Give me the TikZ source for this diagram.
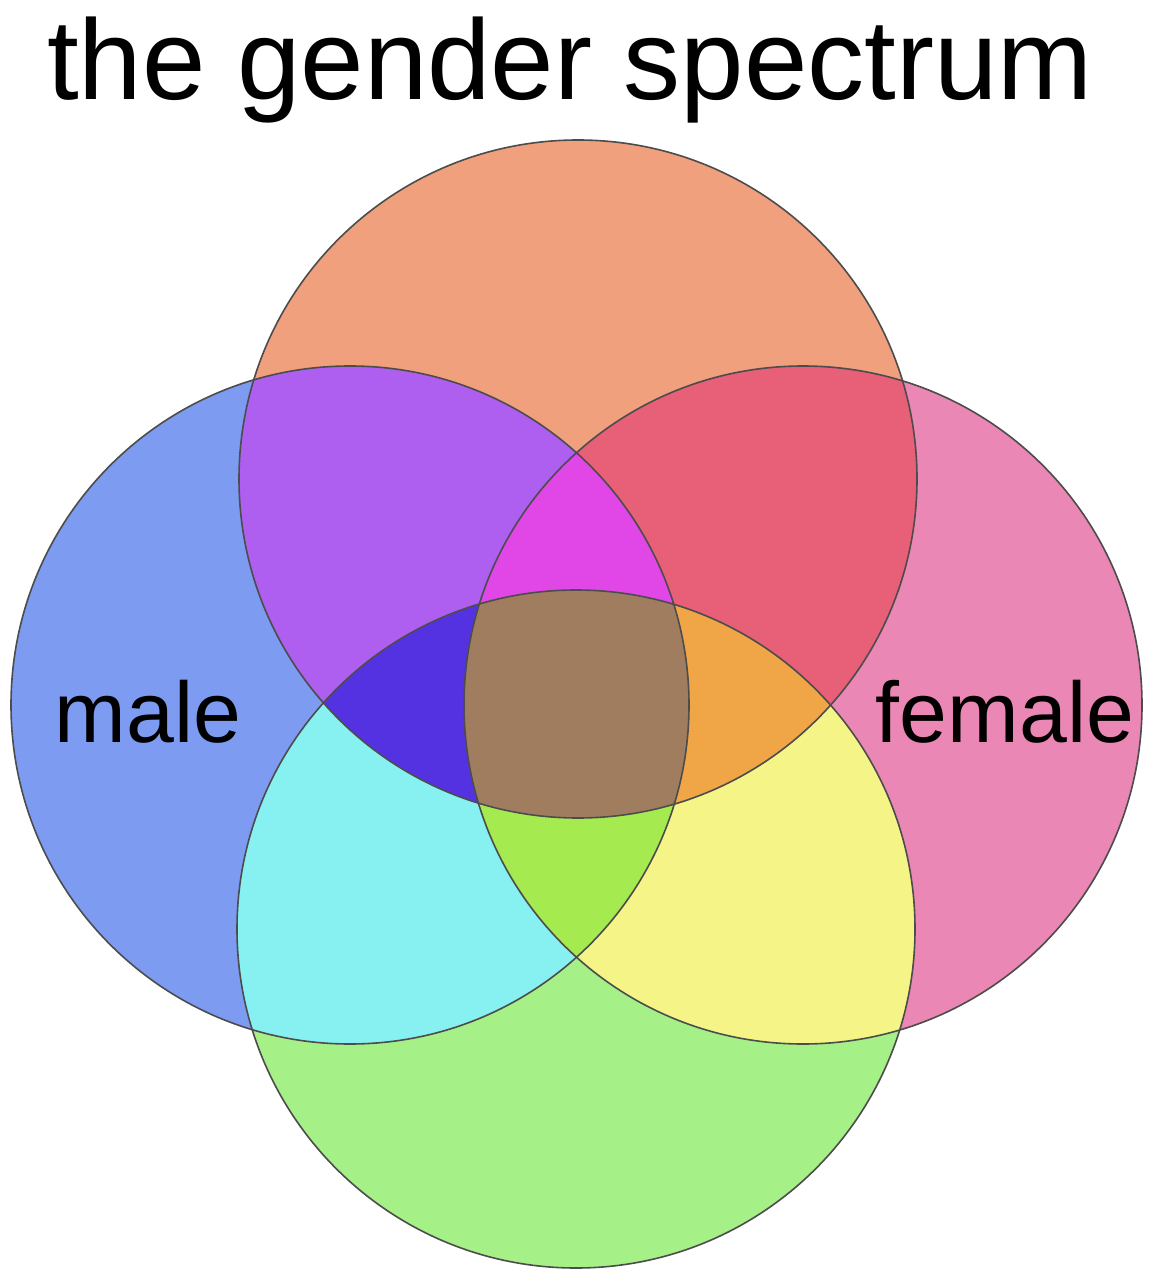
\documentclass[tikz,border=0pt]{standalone}
\usepackage{fontspec}
\setmainfont{Liberation Sans}
\usetikzlibrary{positioning}
\definecolor{topsalmon}{RGB}{240,160,125}
\definecolor{leftblue}{RGB}{125,155,240}
\definecolor{rightpink}{RGB}{235,135,180}
\definecolor{botgreen}{RGB}{165,240,135}
\definecolor{tlpurple}{RGB}{175,95,240}
\definecolor{trred}{RGB}{232,95,120}
\definecolor{lbcyan}{RGB}{135,240,240}
\definecolor{rbyellow}{RGB}{245,245,135}
\definecolor{tlrmagenta}{RGB}{225,70,230}
\definecolor{tlbblue}{RGB}{85,50,225}
\definecolor{trborange}{RGB}{240,165,70}
\definecolor{lrblime}{RGB}{165,235,80}
\definecolor{allbrown}{RGB}{160,125,95}
\newcommand{\vennr}{169.5pt}

\begin{document}
\begin{tikzpicture}[x=0.5pt, y=-0.5pt,
        ring/.style={draw=black!70, line width=0.8pt},
        titletext/.style={font=\fontsize{57}{60}\selectfont, inner sep=0pt},
        sidetext/.style={font=\fontsize{43}{46}\selectfont, inner sep=0pt}
    ]
    \useasboundingbox (0,0) rectangle (1170,1288);
    \fill[white] (0,0) rectangle (1170,1288);

    % Circle centres
    \coordinate (ctop)   at (578,479);
    \coordinate (cleft)  at (350,705);
    \coordinate (cright) at (803,705);
    \coordinate (cbot)   at (576,929);

    % Single circles
    \fill[topsalmon] (ctop)   circle (\vennr);
    \fill[leftblue]  (cleft)  circle (\vennr);
    \fill[rightpink] (cright) circle (\vennr);
    \fill[botgreen]  (cbot)   circle (\vennr);

    % Pairwise overlaps
    \begin{scope}\clip (ctop) circle (\vennr);  \fill[tlpurple] (cleft)  circle (\vennr);\end{scope}
    \begin{scope}\clip (ctop) circle (\vennr);  \fill[trred]    (cright) circle (\vennr);\end{scope}
    \begin{scope}\clip (cbot) circle (\vennr);  \fill[lbcyan]   (cleft)  circle (\vennr);\end{scope}
    \begin{scope}\clip (cbot) circle (\vennr);  \fill[rbyellow] (cright) circle (\vennr);\end{scope}

    % Triple overlaps
    \begin{scope}\clip (ctop) circle (\vennr); \clip (cleft) circle (\vennr);
        \fill[tlrmagenta] (cright) circle (\vennr);\end{scope}
    \begin{scope}\clip (ctop) circle (\vennr); \clip (cleft) circle (\vennr);
        \fill[tlbblue] (cbot) circle (\vennr);\end{scope}
    \begin{scope}\clip (ctop) circle (\vennr); \clip (cright) circle (\vennr);
        \fill[trborange] (cbot) circle (\vennr);\end{scope}
    \begin{scope}\clip (cleft) circle (\vennr); \clip (cright) circle (\vennr);
        \fill[lrblime] (cbot) circle (\vennr);\end{scope}

    % All four
    \begin{scope}\clip (ctop) circle (\vennr); \clip (cleft) circle (\vennr);
        \clip (cright) circle (\vennr);
        \fill[allbrown] (cbot) circle (\vennr);\end{scope}

    % Outlines
    \foreach \c in {ctop,cleft,cright,cbot}
        \draw[ring] (\c) circle (\vennr);

    % Title and side labels
    \node[titletext] (title) at (570,70) {the gender spectrum};
    \node[sidetext] (male)   at (148,712) {male};
    \node[sidetext] (female) at (1005,712) {female};

\end{tikzpicture}
\end{document}
